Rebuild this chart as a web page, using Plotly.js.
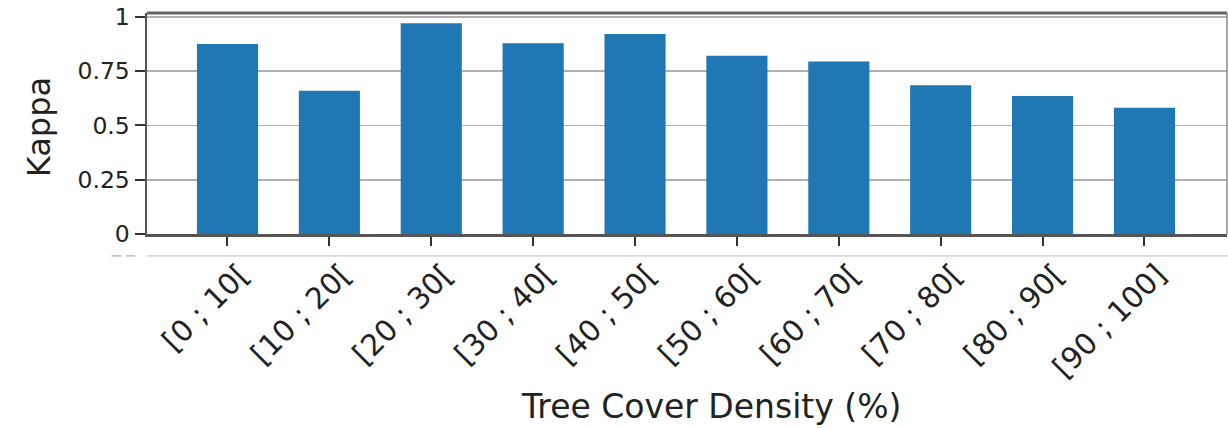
<!DOCTYPE html>
<html>
<head>
<meta charset="utf-8">
<script src="https://cdn.plot.ly/plotly-3.0.1.min.js"></script>
<style>html,body{margin:0;padding:0;background:#fff;}#chart{width:1228px;height:428px;}</style>
</head>
<body>
<div id="chart"></div>
<script>
var categories = ["[0 ; 10[", "[10 ; 20[", "[20 ; 30[", "[30 ; 40[", "[40 ; 50[", "[50 ; 60[", "[60 ; 70[", "[70 ; 80[", "[80 ; 90[", "[90 ; 100]"];
var kappa = [0.875, 0.66, 0.971, 0.879, 0.921, 0.821, 0.795, 0.685, 0.636, 0.581];
var yTickVals = [0, 0.25, 0.5, 0.75, 1];
var yTickText = ["0", "0.25", "0.5", "0.75", "1"];
var xTitle = "Tree Cover Density (%)";
var yTitle = "Kappa";

var font = "DejaVu Sans, sans-serif";
var trace = {
  type: "bar",
  x: categories.map(function(c, i){ return i; }),
  y: kappa,
  width: 0.6,
  marker: {color: "#1f77b4", line: {width: 0}},
  hoverinfo: "none"
};
var layout = {
  width: 1228, height: 428,
  margin: {l: 147, r: 1, t: 13, b: 194},
  paper_bgcolor: "#fff", plot_bgcolor: "#fff",
  showlegend: false,
  font: {family: font, color: "#222"},
  xaxis: {
    range: [-0.79, 9.81],
    tickvals: categories.map(function(c, i){ return i; }),
    ticktext: categories,
    tickangle: -45,
    ticklabelshift: 13,
    tickfont: {size: 29.5, family: font, color: "#222"},
    ticks: "outside", ticklen: 9, tickwidth: 2, tickcolor: "#333",
    showgrid: false, zeroline: false,
    showline: true, linecolor: "#555", linewidth: 2.5,
    mirror: false
  },
  yaxis: {
    range: [0, 1.018],
    tickvals: yTickVals,
    ticktext: yTickText,
    tickfont: {size: 23.5, family: font, color: "#222"},
    ticks: "outside", ticklen: 10, tickwidth: 2, tickcolor: "#333",
    showgrid: true, gridcolor: "#b0b0b0", gridwidth: 1.6,
    zeroline: false,
    showline: true, linecolor: "#555", linewidth: 2.5
  },
  shapes: [
    {type: "line", xref: "paper", yref: "paper", x0: 0, x1: 1, y0: 1, y1: 1, line: {color: "#666", width: 3}},
    {type: "line", xref: "paper", yref: "paper", x0: 1, x1: 1, y0: 0, y1: 1, line: {color: "#888", width: 1.5}},
    {type: "line", xref: "paper", yref: "paper", x0: 0, x1: 1.001, y0: -0.099, y1: -0.099, line: {color: "#ccc", width: 1.2}},
    {type: "line", xref: "paper", yref: "paper", x0: -0.033, x1: -0.024, y0: -0.099, y1: -0.099, line: {color: "#bbb", width: 1.5}},
    {type: "line", xref: "paper", yref: "paper", x0: -0.0195, x1: -0.011, y0: -0.099, y1: -0.099, line: {color: "#bbb", width: 1.5}}
  ],
  annotations: [
    {text: xTitle, xref: "paper", yref: "paper", x: 0.522, y: -0.78, xanchor: "center", yanchor: "middle", showarrow: false, font: {size: 33, family: font, color: "#222"}},
    {text: yTitle, xref: "paper", yref: "paper", x: -0.1006, y: 0.485, xanchor: "center", yanchor: "middle", textangle: -90, showarrow: false, font: {size: 32, family: font, color: "#222"}}
  ]
};
Plotly.newPlot("chart", [trace], layout, {staticPlot: true, displayModeBar: false});
</script>
</body>
</html>
